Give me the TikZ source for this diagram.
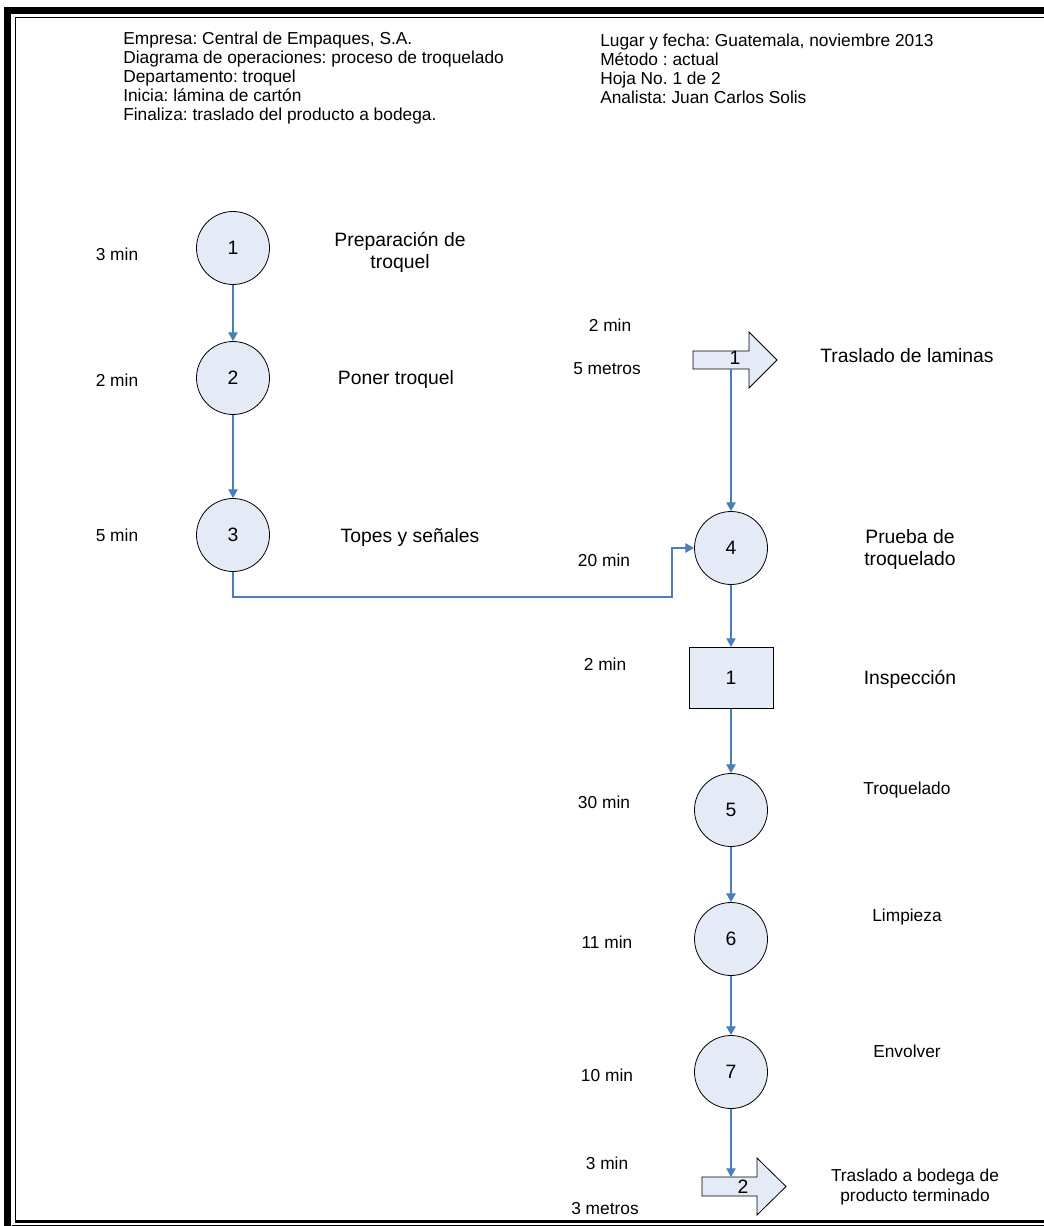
\documentclass[tikz,border=0pt]{standalone}
\usepackage{fontspec}
\setmainfont{Liberation Sans}
\usetikzlibrary{arrows.meta,positioning}
\definecolor{azul}{RGB}{74,126,187}
\definecolor{relleno}{RGB}{228,234,246}
\frenchspacing

\begin{document}
\begin{tikzpicture}[x=0.75pt,y=-0.75pt,
	oper/.style={circle,draw=black,line width=0.6pt,fill=relleno,inner sep=0pt,minimum size=54.75pt,font=\fontsize{14.5}{16}\selectfont},
	insp/.style={rectangle,draw=black,line width=0.6pt,fill=relleno,minimum width=63pt,minimum height=46pt,font=\fontsize{14.5}{16}\selectfont},
	trasl/.style={draw=black,line width=0.6pt,fill=relleno},
	flujo/.style={draw=azul,line width=0.8pt,-{Triangle[width=7pt,length=6.5pt]}},
	cab/.style={inner sep=0pt,align=left,font=\fontsize{13}{14.25}\selectfont},
	tiempo/.style={inner sep=0pt,font=\fontsize{13}{15}\selectfont},
	desc/.style={inner sep=0pt,align=center,font=\fontsize{14.5}{16.5}\selectfont},
	descp/.style={inner sep=0pt,align=center,font=\fontsize{13}{15.5}\selectfont}
	]

	\useasboundingbox (0,0) rectangle (1044,1226);

	% marco
	\draw[line width=5.25pt] (7.5,1226) -- (7.5,10.5) -- (1044,10.5);
	\draw[line width=0.75pt] (15,1221) -- (15,17.5) -- (1044,17.5);
	\draw[line width=2.25pt] (15,1221.5) -- (1044,1221.5);
	\draw[line width=0.75pt] (12,1225.5) -- (1044,1225.5);

	% encabezado
	\node[cab,anchor=west] (empresa) at (123,78) {Empresa: Central de Empaques, S.A.\\Diagrama de operaciones: proceso de troquelado\\Departamento: troquel\\Inicia: lámina de cartón\\Finaliza: traslado del producto a bodega.};
	\node[cab,anchor=west] (lugar) at (600,68.5) {Lugar y fecha: Guatemala, noviembre 2013\\Método : actual\\Hoja No. 1 de 2\\Analista: Juan Carlos Solis};

	\node[oper] (c1) at (233,248) {1};
	\node[oper] (c2) at (233,378) {2};
	\node[oper] (c3) at (233,535) {3};

	\node[tiempo] (t1m) at (117,254) {3 min};
	\node[tiempo] (t2m) at (117,380) {2 min};
	\node[tiempo] (t3m) at (117,535) {5 min};

	\node[desc] (d1) at (400,252) {Preparación de\\troquel};
	\node[desc] (d2) at (396,380) {Poner troquel};
	\node[desc] (d3) at (410,537) {Topes y señales};

	\draw[flujo] (c1) -- (c2);
	\draw[flujo] (c2) -- (c3);

	% traslado 1
	\draw[trasl] (693,351) -- ++(56,0) -- ++(0,-19) -- ++(28,28) -- ++(-28,28) -- ++(0,-19) -- ++(-56,0) -- cycle;
	\node[inner sep=0pt,font=\fontsize{14.5}{16}\selectfont] (tr1) at (735,358) {1};
	\coordinate (tr1b) at (731,369);

	\node[tiempo] (tm4a) at (610,325) {2 min};
	\node[tiempo] (tm4b) at (607,369) {5 metros};
	\node[desc] (d4) at (907,356) {Traslado de laminas};

	\node[oper] (c4) at (731,548) {4};
	\node[insp] (i1) at (731,678) {1};
	\node[oper] (c5) at (731,810) {5};
	\node[oper] (c6) at (731,939) {6};
	\node[oper] (c7) at (731,1072) {7};

	% traslado 2
	\draw[trasl] (702,1177) -- ++(55,0) -- ++(0,-19) -- ++(29,28.5) -- ++(-29,28.5) -- ++(0,-19) -- ++(-55,0) -- cycle;
	\node[inner sep=0pt,font=\fontsize{14.5}{16}\selectfont] (tr2) at (743,1187) {2};
	\coordinate (tr2t) at (731,1177);

	\node[tiempo] (tm5) at (604,560) {20 min};
	\node[tiempo] (tm6) at (605,664) {2 min};
	\node[tiempo] (tm7) at (604,802) {30 min};
	\node[tiempo] (tm8) at (607,942) {11 min};
	\node[tiempo] (tm9) at (607,1075) {10 min};
	\node[tiempo] (tm10a) at (607,1163) {3 min};
	\node[tiempo] (tm10b) at (605,1209) {3 metros};

	\node[desc] (d5) at (910,549) {Prueba de\\troquelado};
	\node[desc] (d6) at (910,679) {Inspección};
	\node[descp] (d7) at (907,790) {Troquelado};
	\node[descp] (d8) at (907,917) {Limpieza};
	\node[descp] (d9) at (907,1051) {Envolver};
	\node[descp] (d10) at (915,1187) {Traslado a bodega de\\producto terminado};

	\coordinate (e1) at (672,597);
	\draw[flujo] (c3.south) |- (e1) |- (c4.west);
	\draw[flujo] (tr1b) -- (c4);
	\draw[flujo] (c4) -- (i1);
	\draw[flujo] (i1) -- (c5);
	\draw[flujo] (c5) -- (c6);
	\draw[flujo] (c6) -- (c7);
	\draw[flujo] (c7) -- (tr2t);

\end{tikzpicture}
\end{document}
